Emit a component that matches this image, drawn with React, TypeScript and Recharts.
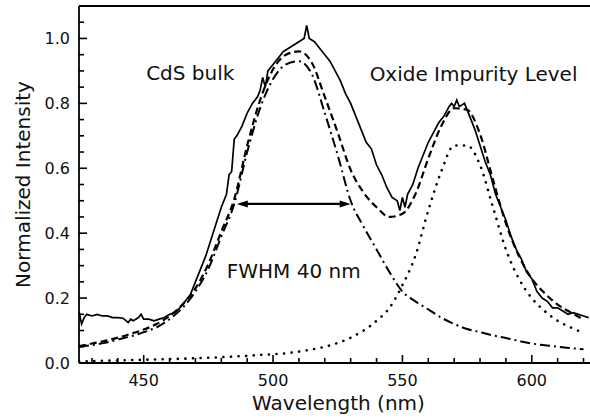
import {
  LineChart,
  Line,
  XAxis,
  YAxis,
  ReferenceLine,
  ReferenceDot,
} from "recharts";

// measured PL spectrum (solid)
const measuredWavelength = [
  425, 426, 427, 428, 430, 432, 434, 436, 438, 440, 442, 444, 445, 446, 448, 449, 450, 452, 454, 456,
  458, 460, 462, 464, 466, 468, 470, 472, 474, 476, 478, 480, 482, 483, 484, 485, 486, 488, 490, 492,
  494, 495, 496, 497, 498, 500, 502, 504, 506, 508, 510, 512, 513, 514, 516, 518, 520, 522, 524, 526,
  528, 530, 532, 534, 536, 538, 540, 542, 544, 546, 548, 549, 550, 551, 552, 554, 556, 558, 560, 562,
  564, 566, 568, 569, 570, 571, 572, 574, 576, 578, 580, 582, 584, 586, 588, 590, 592, 594, 596, 598,
  600, 602, 604, 606, 608, 610, 612, 614, 616, 618, 620, 622,
];
const measured = [
  0.16, 0.12, 0.14, 0.15, 0.145, 0.15, 0.145, 0.145, 0.14, 0.14, 0.138, 0.125, 0.135, 0.13, 0.14, 0.15, 0.135, 0.135, 0.13, 0.135,
  0.14, 0.15, 0.155, 0.17, 0.19, 0.21, 0.25, 0.29, 0.33, 0.38, 0.43, 0.48, 0.52, 0.58, 0.59, 0.69, 0.7, 0.73, 0.77, 0.8,
  0.82, 0.84, 0.88, 0.85, 0.9, 0.92, 0.94, 0.96, 0.97, 0.98, 0.99, 1.0, 1.04, 1.0, 0.99, 0.97, 0.95, 0.93, 0.9, 0.87,
  0.83, 0.8, 0.76, 0.72, 0.68, 0.66, 0.61, 0.58, 0.54, 0.51, 0.5, 0.47, 0.51, 0.48, 0.52, 0.55, 0.6, 0.64, 0.68, 0.71,
  0.74, 0.76, 0.79, 0.8, 0.79, 0.81, 0.79, 0.8, 0.76, 0.72, 0.67, 0.62, 0.58, 0.52, 0.48, 0.44, 0.39, 0.35, 0.32, 0.28,
  0.26, 0.22, 0.2, 0.19, 0.17, 0.17, 0.16, 0.15, 0.155, 0.15, 0.145, 0.14,
];

// fitted curves
const fitWavelength = [
  425, 430, 435, 440, 445, 450, 455, 460, 465, 470, 475, 480, 485, 490, 495, 500, 505, 510, 515, 520,
  525, 530, 535, 540, 545, 550, 555, 560, 565, 570, 575, 580, 585, 590, 595, 600, 605, 610, 615, 620,
];
const totalFit = [
  0.052, 0.06, 0.068, 0.078, 0.09, 0.103, 0.12, 0.145, 0.18, 0.23, 0.305, 0.405, 0.505, 0.67, 0.81, 0.905, 0.95, 0.96, 0.925, 0.82,
  0.71, 0.595, 0.525, 0.48, 0.45, 0.46, 0.52, 0.63, 0.73, 0.785, 0.78, 0.705, 0.565, 0.43, 0.33, 0.26, 0.215, 0.18, 0.156, 0.134,
];
const cdsBulk = [
  0.05, 0.055, 0.062, 0.072, 0.082, 0.095, 0.11, 0.135, 0.17, 0.22, 0.29, 0.39, 0.49, 0.65, 0.785, 0.875, 0.92, 0.93, 0.89, 0.77,
  0.64, 0.5, 0.42, 0.35, 0.28, 0.22, 0.19, 0.165, 0.14, 0.12, 0.105, 0.095, 0.085, 0.077, 0.068, 0.06, 0.055, 0.05, 0.046, 0.042,
];
const oxide = [
  0.005, 0.006, 0.007, 0.008, 0.009, 0.01, 0.011, 0.012, 0.013, 0.015, 0.016, 0.018, 0.02, 0.022, 0.025, 0.027, 0.03, 0.035, 0.042, 0.05,
  0.062, 0.078, 0.1, 0.13, 0.17, 0.24, 0.33, 0.47, 0.59, 0.67, 0.67, 0.61, 0.48, 0.35, 0.26, 0.2, 0.16, 0.13, 0.11, 0.092,
];

const xTicks = [430, 440, 450, 460, 470, 480, 490, 500, 510, 520, 530, 540, 550, 560, 570, 580, 590, 600, 610, 620];
const yTicks = [
  0, 0.05, 0.1, 0.15, 0.2, 0.25, 0.3, 0.35, 0.4, 0.45, 0.5, 0.55, 0.6, 0.65, 0.7, 0.75, 0.8, 0.85, 0.9, 0.95, 1.0, 1.05,
];

const fwhmStart = 486;
const fwhmEnd = 530;
const fwhmLevel = 0.49;

const measuredData = measuredWavelength.map((w, i) => ({ w, v: measured[i] }));
const fitData = fitWavelength.map((w, i) => ({
  w,
  total: totalFit[i],
  cds: cdsBulk[i],
  oxide: oxide[i],
}));

const FONT = "DejaVu Sans, Arial, sans-serif";

function XTick(props: any) {
  const { x, y, payload } = props;
  const major = payload.value % 50 === 0;
  return (
    <g>
      <line x1={x} y1={y} x2={x} y2={y - (major ? 8 : 5)} stroke="#000" strokeWidth={1.6} />
      {major && (
        <text x={x} y={y + 23} textAnchor="middle" fontSize={16} fontFamily={FONT} fill="#111">
          {payload.value}
        </text>
      )}
    </g>
  );
}

function YTick(props: any) {
  const { x, y, payload } = props;
  const major = Math.round(payload.value * 100) % 20 === 0;
  return (
    <g>
      <line x1={x} y1={y} x2={x + (major ? 8 : 5)} y2={y} stroke="#000" strokeWidth={1.6} />
      {major && (
        <text x={x - 9} y={y + 6} textAnchor="end" fontSize={16} fontFamily={FONT} fill="#111">
          {payload.value.toFixed(1)}
        </text>
      )}
    </g>
  );
}

function Arrow(p: any) {
  const { x1, y1, x2, y2 } = p;
  return (
    <g>
      <line x1={x1 + 4} y1={y1} x2={x2 - 4} y2={y2} stroke="#000" strokeWidth={2.2} />
      <polygon points={`${x1},${y1} ${x1 + 11},${y1 - 3.5} ${x1 + 11},${y1 + 3.5}`} fill="#000" />
      <polygon points={`${x2},${y2} ${x2 - 11},${y2 - 3.5} ${x2 - 11},${y2 + 3.5}`} fill="#000" />
    </g>
  );
}

const annotation = { position: "center" as const, fontSize: 20, fill: "#111", fontFamily: FONT };

export default function App() {
  return (
    <div style={{ position: "absolute", left: 0, top: 0, background: "#fff", fontFamily: FONT }}>
      <LineChart width={590} height={419} data={fitData} margin={{ top: 6, right: 0, left: 0, bottom: 0 }}>
        <XAxis
          dataKey="w"
          type="number"
          domain={[425, 622.5]}
          allowDataOverflow
          ticks={xTicks}
          interval={0}
          tickSize={0}
          tickMargin={0}
          tick={<XTick />}
          height={56}
          axisLine={{ stroke: "#000", strokeWidth: 1.8 }}
          label={{ value: "Wavelength (nm)", position: "insideBottom", offset: 9, dx: 4, fontSize: 20, fill: "#111", fontFamily: FONT }}
        />
        <YAxis
          type="number"
          domain={[0, 1.1]}
          allowDataOverflow
          ticks={yTicks}
          interval={0}
          tickSize={0}
          tickMargin={0}
          tick={<YTick />}
          width={79}
          axisLine={{ stroke: "#000", strokeWidth: 1.8 }}
          label={{
            value: "Normalized Intensity",
            angle: -90,
            position: "insideLeft",
            offset: 23,
            fontSize: 20,
            fill: "#111",
            fontFamily: FONT,
            style: { textAnchor: "middle" },
          }}
        />
        <ReferenceLine y={1.1} stroke="#000" strokeWidth={1.8} />
        <Line
          dataKey="oxide"
          type="monotone"
          stroke="#000"
          strokeWidth={2.6}
          strokeDasharray="0.1 7.5"
          strokeLinecap="round"
          dot={false}
          isAnimationActive={false}
        />
        <Line
          dataKey="cds"
          type="monotone"
          stroke="#000"
          strokeWidth={2}
          strokeDasharray="10 4 2 4"
          dot={false}
          isAnimationActive={false}
        />
        <Line
          dataKey="total"
          type="monotone"
          stroke="#000"
          strokeWidth={2.2}
          strokeDasharray="7 4"
          dot={false}
          isAnimationActive={false}
        />
        <Line
          data={measuredData}
          dataKey="v"
          type="linear"
          stroke="#000"
          strokeWidth={1.7}
          dot={false}
          isAnimationActive={false}
        />
        <ReferenceLine
          segment={[
            { x: fwhmStart, y: fwhmLevel },
            { x: fwhmEnd, y: fwhmLevel },
          ]}
          shape={Arrow}
        />
        <ReferenceDot x={468} y={0.895} r={0} fill="none" stroke="none" label={{ value: "CdS bulk", ...annotation }} />
        <ReferenceDot x={577.5} y={0.89} r={0} fill="none" stroke="none" label={{ value: "Oxide Impurity Level", ...annotation }} />
        <ReferenceDot x={508} y={0.285} r={0} fill="none" stroke="none" label={{ value: "FWHM 40 nm", ...annotation }} />
      </LineChart>
    </div>
  );
}
